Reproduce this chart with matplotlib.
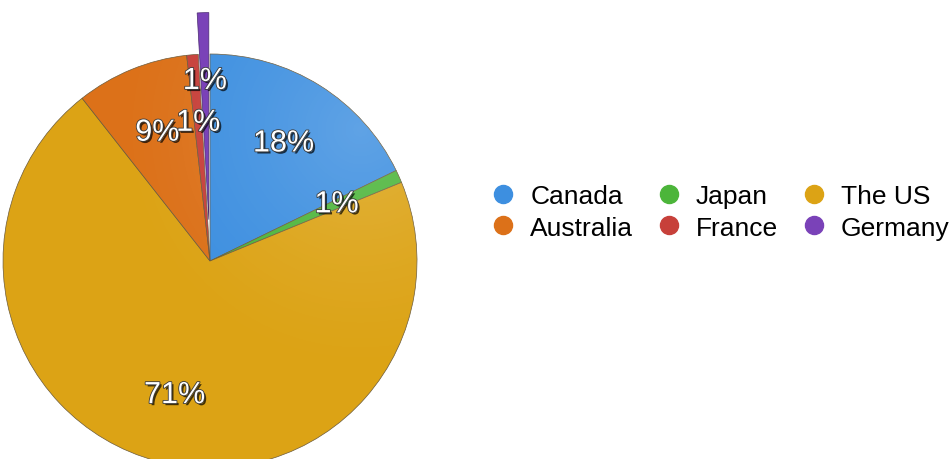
import matplotlib
matplotlib.use("Agg")
import numpy as np
import matplotlib.pyplot as plt
import matplotlib.patheffects as pe
from matplotlib.lines import Line2D
from matplotlib.patches import Circle

countries = ["Canada", "Japan", "The US", "Australia", "France", "Germany"]
shares = [17.8, 1.0, 70.6, 8.8, 0.9, 0.9]
colors = ["#3d8fe0", "#4cb53a", "#dca315", "#dc7119", "#c7403a", "#7a42b8"]
explode_frac = [0, 0, 0, 0, 0, 0.2]

W, H = 951, 460
fig = plt.figure(figsize=(W / 100, H / 100), dpi=100)
ax = fig.add_axes([0, 0, 1, 1])

cx, cy, R = 210, 198, 207
wedges, _, autotexts = ax.pie(
    shares,
    colors=colors,
    explode=[f * R for f in explode_frac],
    startangle=90,
    counterclock=False,
    center=(cx, cy),
    radius=R,
    autopct="%.0f%%",
    pctdistance=0.67,
    wedgeprops=dict(edgecolor="#6b5a3a", linewidth=0.5),
    textprops=dict(color="white", fontsize=22, family="Liberation Sans", zorder=5),
)
# the pulled-out slice sits above the lighting layer
for w, f in zip(wedges, explode_frac):
    if f > 0:
        w.set_zorder(3)
        w.set_edgecolor("#4a2a70")

# soft light from the upper right across the disc
yy, xx = np.mgrid[0:H, 0:W]
d = np.hypot(xx - 360, (H - yy) - 330)
glow = np.clip(1 - d / 260, 0, 1) ** 1.5
rgba = np.zeros((H, W, 4))
rgba[..., :3] = 1.0
rgba[..., 3] = 0.18 * glow
img = ax.imshow(rgba, extent=(0, W, 0, H), origin="upper", zorder=2, interpolation="bilinear")
img.set_clip_path(Circle((cx, cy), R, transform=ax.transData))

for t in autotexts:
    t.set_path_effects([
        pe.withSimplePatchShadow(offset=(1.5, -1.5), shadow_rgbFace="black", alpha=0.7),
        pe.Stroke(linewidth=1.2, foreground="#3a3a3a"),
        pe.Normal(),
    ])

ax.set_xlim(0, W)
ax.set_ylim(0, H)
ax.set_aspect("equal")
ax.axis("off")

order = [0, 3, 1, 4, 2, 5]
handles = [
    Line2D([], [], marker="o", linestyle="none", markersize=13,
           markerfacecolor=colors[i], markeredgecolor=colors[i])
    for i in order
]
labels = [countries[i] for i in order]
fig.legend(
    handles, labels, ncol=3, frameon=False,
    loc="center left", bbox_to_anchor=(466 / W, 1 - 213 / H),
    prop=dict(family="Liberation Sans", size=19),
    handletextpad=0.53, columnspacing=0.85, labelspacing=0.28,
    handlelength=1.0,
)

fig.savefig("out.png", dpi=100)
